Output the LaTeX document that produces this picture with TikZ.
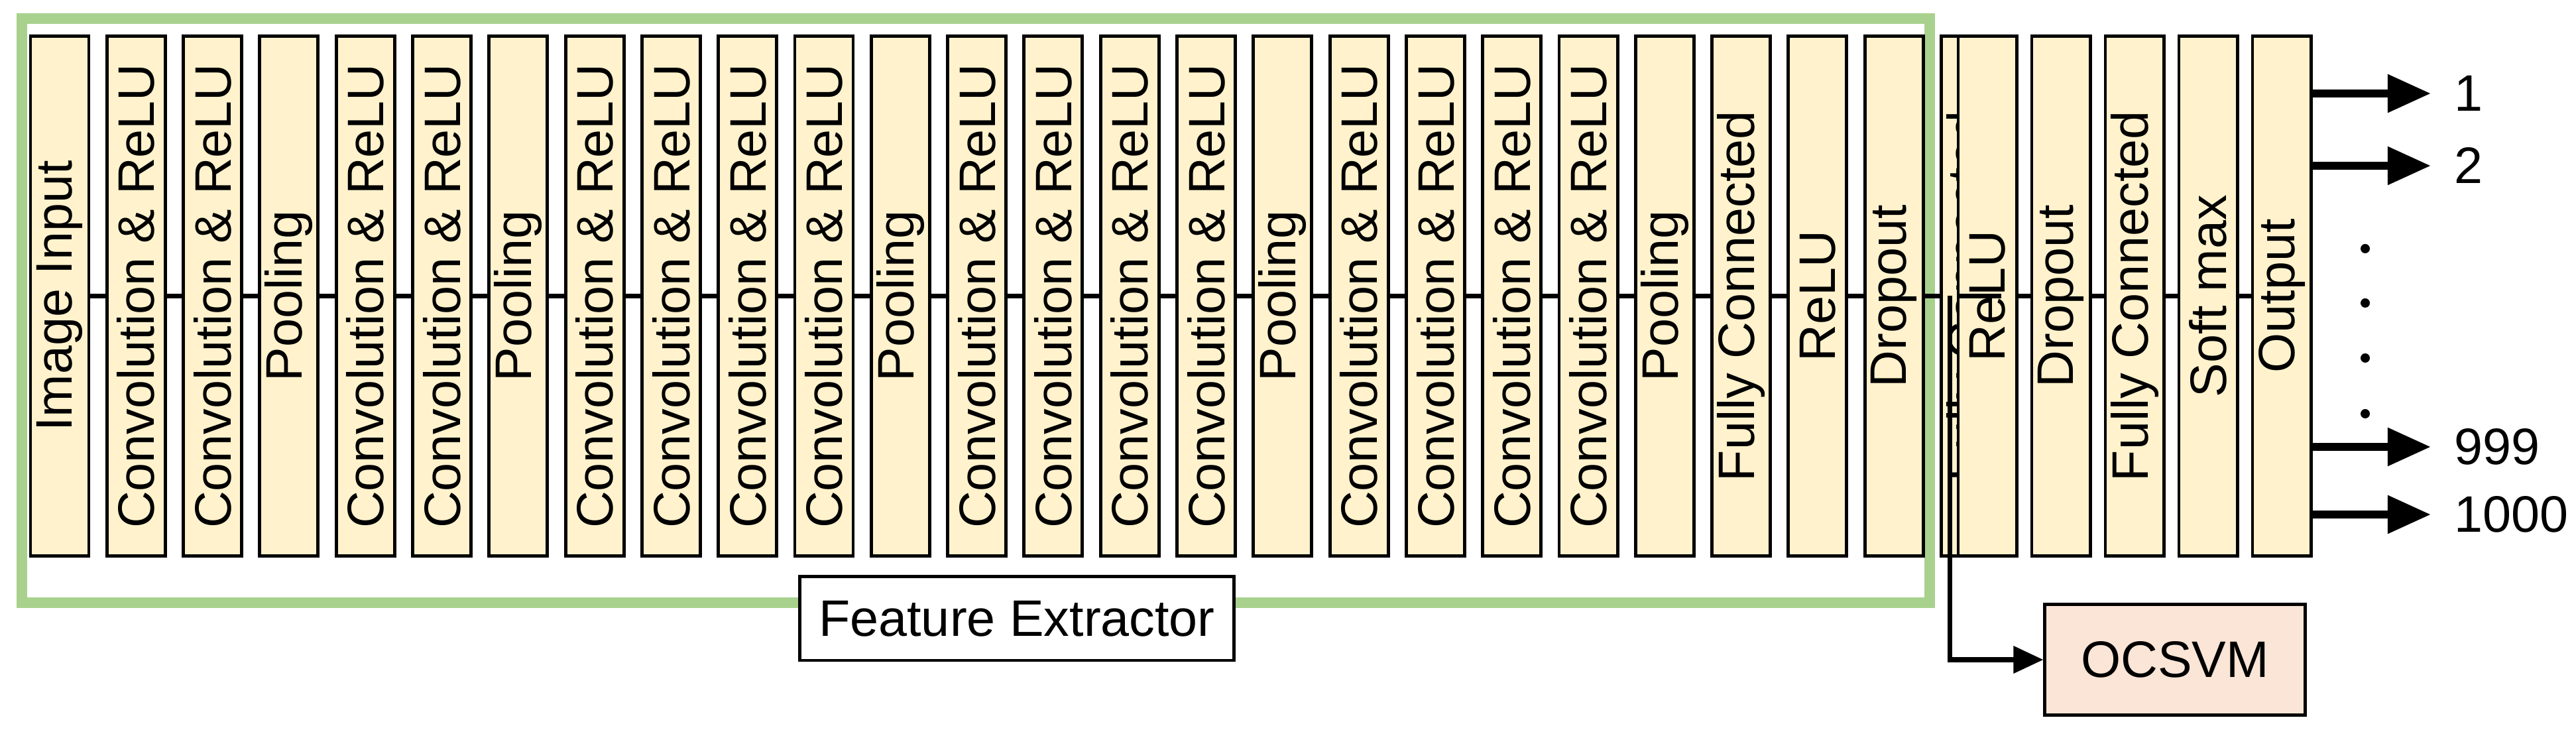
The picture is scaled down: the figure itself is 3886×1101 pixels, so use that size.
\documentclass[tikz,border=0pt]{standalone}
\usepackage{fontspec}
\setmainfont{Liberation Sans}
\usetikzlibrary{arrows.meta}
\begin{document}
\begin{tikzpicture}[x=0.01cm,y=0.01cm,
  lay/.style={draw=black,line width=1.4pt,fill=layfill,minimum width=7.83cm,minimum height=0.88cm,inner sep=0pt,rotate=90,font=\fontsize{22}{24}\selectfont},
  conn/.style={line width=2pt},
  outarr/.style={line width=3.4pt,-{Triangle[length=0.65cm,width=0.55cm]}},
  lbl/.style={anchor=west,font=\fontsize{22}{24}\selectfont}]
\definecolor{layfill}{HTML}{FFF2CC}
\definecolor{svmfill}{HTML}{FBE5D6}
\definecolor{frame}{HTML}{A9D18E}
\useasboundingbox (0,0) rectangle (3886,-1101);
\draw[frame,line width=4.8pt] (33,-28) rectangle (2911,-909);
\foreach \t [count=\i from 0] in {Image Input,Convolution \& ReLU,Convolution \& ReLU,Pooling,Convolution \& ReLU,Convolution \& ReLU,Pooling,Convolution \& ReLU,Convolution \& ReLU,Convolution \& ReLU,Convolution \& ReLU,Pooling,Convolution \& ReLU,Convolution \& ReLU,Convolution \& ReLU,Convolution \& ReLU,Pooling,Convolution \& ReLU,Convolution \& ReLU,Convolution \& ReLU,Convolution \& ReLU,Pooling,Fully Connected,ReLU,Dropout,Fully Connected}
  \node[lay] (b\i) at ({90+\i*115.3},-446.5) {\t};
\foreach \t [count=\i from 26] in {ReLU,Dropout,Fully Connected,Soft max,Output}
  \node[lay] (b\i) at ({2998+(\i-26)*111},-446.5) {\t};
\foreach \i [evaluate=\i as \j using int(\i+1)] in {0,...,29}
  \draw[conn] (b\i.south) -- (b\j.north);
\node[draw=black,line width=1.4pt,fill=white,minimum width=6.54cm,minimum height=1.26cm,inner sep=0pt,font=\fontsize{22}{24}\selectfont] (fe) at (1534,-933) {Feature Extractor};
\node[draw=black,line width=1.4pt,fill=svmfill,minimum width=3.92cm,minimum height=1.66cm,inner sep=0pt,font=\fontsize{22}{24}\selectfont] (svm) at (3281,-995) {OCSVM};
\coordinate (br) at (2941,-446.5);
\draw[conn,-{Triangle[length=0.45cm,width=0.4cm]}] (br) |- (svm.west);
\coordinate (o1) at (3667,-141);
\coordinate (o2) at (3667,-250);
\coordinate (o3) at (3667,-674);
\coordinate (o4) at (3667,-776);
\draw[outarr] (b30.south |- o1) -- (o1);
\draw[outarr] (b30.south |- o2) -- (o2);
\draw[outarr] (b30.south |- o3) -- (o3);
\draw[outarr] (b30.south |- o4) -- (o4);
\node[lbl] at (3690,-141) {1};
\node[lbl] at (3690,-250) {2};
\node[lbl] at (3690,-674) {999};
\node[lbl] at (3690,-776) {1000};
\foreach \y in {375,457,540,624} \fill (3568,-\y) circle (0.07cm);
\end{tikzpicture}
\end{document}
